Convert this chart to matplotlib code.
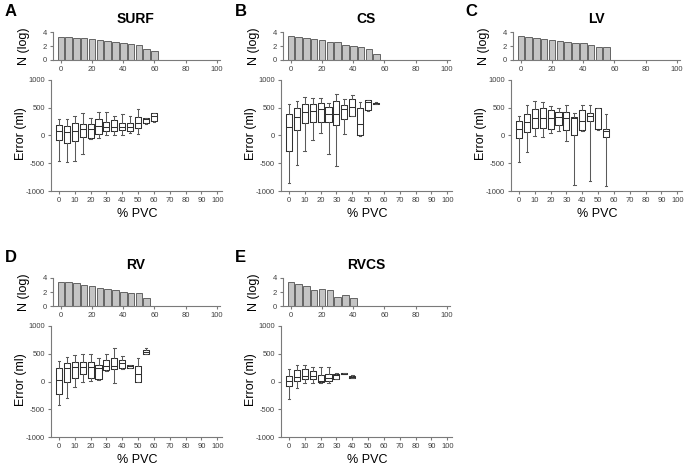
import numpy as np
import matplotlib
matplotlib.use('Agg')
import matplotlib.pyplot as plt

plt.rcParams['font.family'] = ['Liberation Sans', 'DejaVu Sans']
plt.rcParams['axes.unicode_minus'] = False

# ---- data ----
surf_pvc = [0, 5, 10, 15, 20, 25, 30, 35, 40, 45, 50, 55, 60]
surf_logn = [3.35, 3.25, 3.15, 3.1, 3.05, 2.9, 2.7, 2.6, 2.4, 2.35, 2.1, 1.55, 1.3]
surf_lo = [-456, -486, -456, -336, -66, -54, 6, 6, 12, 48, 36, 216, 252]
surf_q1 = [-84, -144, -96, -36, -48, 36, 84, 84, 96, 84, 144, 234, 264]
surf_med = [84, 72, 84, 126, 126, 174, 156, 162, 162, 156, 234, 294, 354]
surf_q3 = [186, 168, 228, 204, 216, 294, 252, 276, 234, 234, 336, 312, 402]
surf_hi = [294, 300, 354, 402, 324, 426, 426, 354, 396, 354, 486, 324, 414]

cs_pvc = [0, 5, 10, 15, 20, 25, 30, 35, 40, 45, 50, 55]
cs_logn = [3.4, 3.25, 3.1, 3.0, 2.8, 2.6, 2.55, 2.15, 2.0, 1.85, 1.55, 0.8]
cs_lo = [-864, -528, -276, -78, 54, -336, -558, 24, 354, -6, 444, 560]
cs_q1 = [-282, 96, 222, 246, 252, 246, 186, 300, 360, 6, 456, 570]
cs_med = [162, 336, 426, 450, 474, 384, 384, 486, 522, 216, 610, 580]
cs_q3 = [384, 504, 564, 564, 594, 522, 624, 546, 666, 492, 636, 590]
cs_hi = [576, 624, 702, 684, 684, 594, 756, 654, 726, 606, 640, 600]

lv_pvc = [0, 5, 10, 15, 20, 25, 30, 35, 40, 45, 50, 55]
lv_logn = [3.4, 3.25, 3.1, 3.0, 2.85, 2.7, 2.55, 2.4, 2.4, 2.1, 1.9, 1.9]
lv_lo = [-486, -306, -6, -24, 42, 84, -96, -888, 84, -822, 96, -918]
lv_q1 = [-48, 66, 144, 144, 114, 192, 96, 12, 102, 264, 114, -36]
lv_med = [126, 252, 324, 324, 324, 336, 324, 312, 264, 354, 114, 84]
lv_q3 = [264, 384, 474, 492, 462, 426, 426, 336, 462, 414, 492, 114]
lv_hi = [354, 552, 624, 606, 528, 504, 552, 408, 552, 552, 492, 396]

rv_pvc = [0, 5, 10, 15, 20, 25, 30, 35, 40, 45, 50, 55]
rv_logn = [3.45, 3.4, 3.3, 3.05, 2.9, 2.6, 2.5, 2.3, 2.05, 1.9, 1.8, 1.1]
rv_lo = [-421, -289, -108, -18, 12, 24, 193, -30, 223, 240, -6, 490]
rv_q1 = [-229, -6, 60, 132, 72, 54, 205, 223, 235, 250, 0, 500]
rv_med = [30, 235, 253, 253, 253, 235, 271, 271, 325, 271, 132, 530]
rv_q3 = [235, 337, 355, 355, 355, 295, 391, 421, 391, 295, 277, 560]
rv_hi = [361, 433, 482, 494, 494, 421, 494, 608, 457, 300, 421, 610]

rvcs_pvc = [0, 5, 10, 15, 20, 25, 30, 35, 40]
rvcs_logn = [3.4, 3.2, 2.9, 2.35, 2.5, 2.35, 1.3, 1.55, 1.1]
rvcs_lo = [-319, -126, -36, -36, -30, -30, 42, 130, 65]
rvcs_q1 = [-78, 12, 42, 42, -18, 12, 54, 135, 72]
rvcs_med = [12, 84, 102, 102, 12, 60, 114, 142, 90]
rvcs_q3 = [102, 205, 223, 193, 120, 132, 132, 150, 102]
rvcs_hi = [223, 295, 295, 265, 253, 253, 150, 155, 110]

panels = [
    ('A', 'SURF', 0, 0, surf_pvc, surf_logn, surf_lo, surf_q1, surf_med, surf_q3, surf_hi),
    ('B', 'CS', 1, 0, cs_pvc, cs_logn, cs_lo, cs_q1, cs_med, cs_q3, cs_hi),
    ('C', 'LV', 2, 0, lv_pvc, lv_logn, lv_lo, lv_q1, lv_med, lv_q3, lv_hi),
    ('D', 'RV', 0, 1, rv_pvc, rv_logn, rv_lo, rv_q1, rv_med, rv_q3, rv_hi),
    ('E', 'RVCS', 1, 1, rvcs_pvc, rvcs_logn, rvcs_lo, rvcs_q1, rvcs_med, rvcs_q3, rvcs_hi),
]

W, H = 686, 469
fig = plt.figure(figsize=(W / 100, H / 100), dpi=100)

spine_col = '#7a7a7a'
tick_col = '#404040'


def px_axes(left, top, right, bottom):
    return fig.add_axes([left / W, 1 - bottom / H, (right - left) / W, (bottom - top) / H])


def style(ax):
    for s in ['top', 'right']:
        ax.spines[s].set_visible(False)
    for s in ['left', 'bottom']:
        ax.spines[s].set_color(spine_col)
        ax.spines[s].set_linewidth(0.8)
    ax.tick_params(colors=spine_col, labelcolor=tick_col, labelsize=5.5,
                   length=2.5, width=0.8, pad=2)


for letter, name, col, row, pvc, logn, lo, q1, med, q3, hi in panels:
    dx = 230 * col
    dy = 246 * row

    # bar chart of counts
    axb = px_axes(53 + dx, 32 + dy, 220 + dx, 60 + dy)
    axb.bar(pvc, logn, width=4.2, color='#c4c4c4', edgecolor='#505050', linewidth=0.6)
    axb.set_xlim(-5, 102)
    axb.set_ylim(0, 4)
    axb.set_xticks([0, 20, 40, 60, 80, 100])
    axb.set_yticks([0, 2, 4])
    style(axb)

    # box plots of error
    axe = px_axes(51 + dx, 80 + dy, 222 + dx, 191 + dy)
    stats = []
    for i in range(len(pvc)):
        stats.append({'whislo': lo[i], 'q1': q1[i], 'med': med[i],
                      'q3': q3[i], 'whishi': hi[i], 'fliers': []})
    axe.bxp(stats, positions=pvc, widths=3.8, capwidths=1.6, showfliers=False,
            manage_ticks=False,
            boxprops=dict(color='#303030', linewidth=0.75),
            medianprops=dict(color='#303030', linewidth=0.75),
            whiskerprops=dict(color='#5a5a5a', linewidth=0.75),
            capprops=dict(color='#5a5a5a', linewidth=0.75))
    axe.set_xlim(-5, 103)
    axe.set_ylim(-1000, 1000)
    axe.set_xticks(np.arange(0, 101, 10))
    axe.set_yticks([-1000, -500, 0, 500, 1000])
    style(axe)

    # labels
    fig.text((136 + dx) / W, 1 - (19 + dy) / H, name, ha='center', va='center',
             fontsize=10, fontweight='bold')
    fig.text((5 + dx) / W, 1 - (12 + dy) / H, letter, ha='left', va='center',
             fontsize=12, fontweight='bold')
    fig.text((24 + dx) / W, 1 - (46 + dy) / H, 'N (log)', rotation=90,
             ha='center', va='center', fontsize=9)
    fig.text((21 + dx) / W, 1 - (134 + dy) / H, 'Error (ml)', rotation=90,
             ha='center', va='center', fontsize=9)
    fig.text((137 + dx) / W, 1 - (214 + dy) / H, '% PVC', ha='center',
             va='center', fontsize=9)

fig.savefig('out.png', dpi=100)
